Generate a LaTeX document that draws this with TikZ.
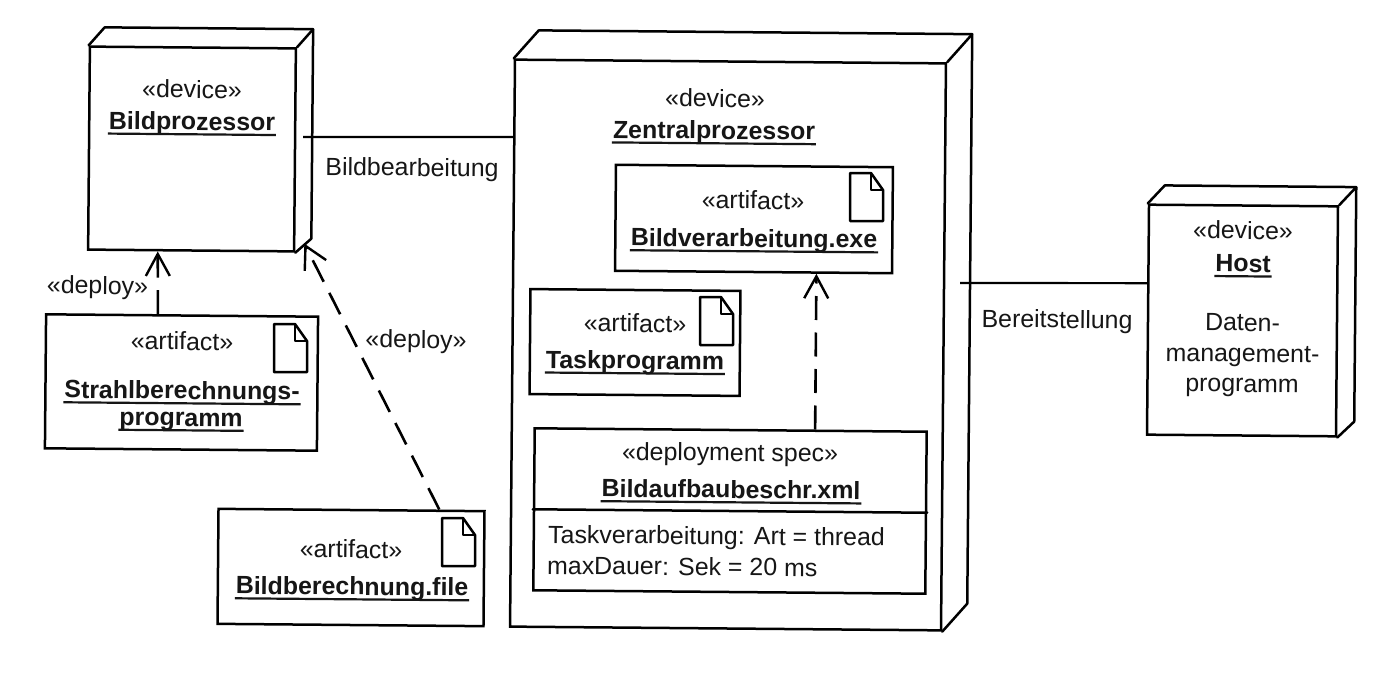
\documentclass[tikz,border=0pt]{standalone}
\usepackage{fontspec}
\setmainfont{Liberation Sans}
\usetikzlibrary{calc,arrows.meta}
\newsavebox\ulsave
\newcommand\ulb[1]{\sbox\ulsave{\bfseries #1}\rlap{\kern-1pt\vrule width \dimexpr\wd\ulsave+2pt\relax height -3.2pt depth 5.4pt}\usebox\ulsave}
\definecolor{ink}{HTML}{161616}
\tikzset{
  x=1pt,y=-1pt,
  every node/.append style={text=ink,font=\fontsize{24.9}{29}\selectfont},
  txt/.style={anchor=base,inner sep=0pt,rotate=-0.5},
  ltxt/.style={anchor=base west,inner sep=0pt,rotate=-0.5},
  frame/.style={draw=black,line width=2.5pt,rectangle,inner sep=0pt,rotate=-0.5,line join=miter},
  edge3d/.style={draw=black,line width=2.5pt,line join=round,line cap=round},
  assoc/.style={draw=black,line width=2.2pt},
  dep/.style={draw=black,line width=2.6pt,dash pattern=on 24pt off 12.5pt,
    -{Straight Barb[length=22pt,width=24pt,line width=2.4pt]}},
  icon/.style={draw=black,line width=2.5pt,line join=round}
}
% name, cx, cy, w, h
\newcommand\fr[5]{\node[frame,minimum width=#4pt,minimum height=#5pt] (#1) at (#2,#3) {};}
% name, dx, dy, dy of the lower back corner
\newcommand\depth[4]{%
  \draw[edge3d] (#1.north west) -- ($(#1.north west)+(#2,#3)$)
    -- ($(#1.north east)+(#2,#3)$) -- ($(#1.south east)+(#2,#4)$) -- (#1.south east);
  \draw[edge3d] (#1.north east) -- ($(#1.north east)+(#2,#3)$);}
% left, top of the file icon
\newcommand\docicon[2]{%
  \draw[icon,shift={(#1,#2)}] (0,0) -- (21,0) -- (33,17) -- (33,48) -- (0,48) -- cycle;
  \draw[icon,shift={(#1,#2)},line width=1.8pt] (21,0) -- (21,17) -- (33,17);}
\begin{document}
\begin{tikzpicture}
\useasboundingbox[fill=white] (0,0) rectangle (1384,672);
% devices
\fr{bild}{192}{149}{206}{203}
\depth{bild}{16}{-18}{-14}
\fr{zen}{728}{345}{431}{567}
\depth{zen}{25}{-28}{-28}
\fr{host}{1242.5}{320.5}{189}{230}
\depth{host}{17}{-18}{-16}
% artifacts
\fr{strahl}{181.5}{382.5}{272}{134}
\docicon{274}{324}
\fr{berech}{351}{567.5}{266}{115}
\docicon{442}{518}
\fr{verarb}{754}{219}{277}{106}
\docicon{850}{173}
\fr{task}{635}{342.5}{210}{105}
\docicon{700}{297}
\fr{spec}{730}{511}{392}{162}
\draw[edge3d] (spec.west) -- (spec.east);
% texts
\node[txt] (t1) at (192,98) {«device»};
\node[txt] (t2) at (192,130) {\ulb{Bildprozessor}};
\node[txt] (t3) at (412,176) {Bildbearbeitung};
\node[txt] (t4) at (97.5,294) {«deploy»};
\node[txt] (t5) at (182,350) {«artifact»};
\node[txt] (t6) at (182,399) {\ulb{Strahlberechnungs-}};
\node[txt] (t7) at (181,426) {\ulb{programm}};
\node[txt] (t8) at (416,348) {«deploy»};
\node[txt] (t9) at (351,558) {«artifact»};
\node[txt] (t10) at (352,595) {\ulb{Bildberechnung.file}};
\node[txt] (t11) at (715,107) {«device»};
\node[txt] (t12) at (714,139) {\ulb{Zentralprozessor}};
\node[txt] (t13) at (753,209) {«artifact»};
\node[txt] (t14) at (754,247) {\ulb{Bildverarbeitung.exe}};
\node[txt] (t15) at (635,332) {«artifact»};
\node[txt] (t16) at (635,369) {\ulb{Taskprogramm}};
\node[txt] (t17) at (730,461) {«deployment spec»};
\node[txt] (t18) at (731,498) {\ulb{Bildaufbaubeschr.xml}};
\node[ltxt] (t19) at (548,543) {Taskverarbeitung: Art = thread};
\node[ltxt] (t20) at (547,574) {maxDauer: Sek = 20 ms};
\node[txt] (t21) at (1243,239) {«device»};
\node[txt] (t22) at (1243,272) {\ulb{Host}};
\node[txt] (t23) at (1242.5,331) {Daten-};
\node[txt] (t24) at (1242.5,362) {management-};
\node[txt] (t25) at (1242,392) {programm};
\node[txt] (t26) at (1057,328) {Bereitstellung};
% connectors
\coordinate (linkA) at (303,137);
\coordinate (linkB) at (960,283);
\draw[assoc] (linkA) -- ($(zen.north west)!0.138!(zen.south west)$);
\draw[assoc] (linkB) -- ($(host.north west)!0.343!(host.south west)$);
\draw[dep] ($(strahl.north west)!0.412!(strahl.north east)$) -- ($(bild.south west)!0.34!(bild.south east)$);
\draw[dep] ($(berech.north west)!0.827!(berech.north east)$) -- ($(bild.south east)+(9,-9)$);
\draw[dep] ($(spec.north west)!0.714!(spec.north east)$) -- ($(verarb.south west)!0.725!(verarb.south east)$);
\end{tikzpicture}
\end{document}
